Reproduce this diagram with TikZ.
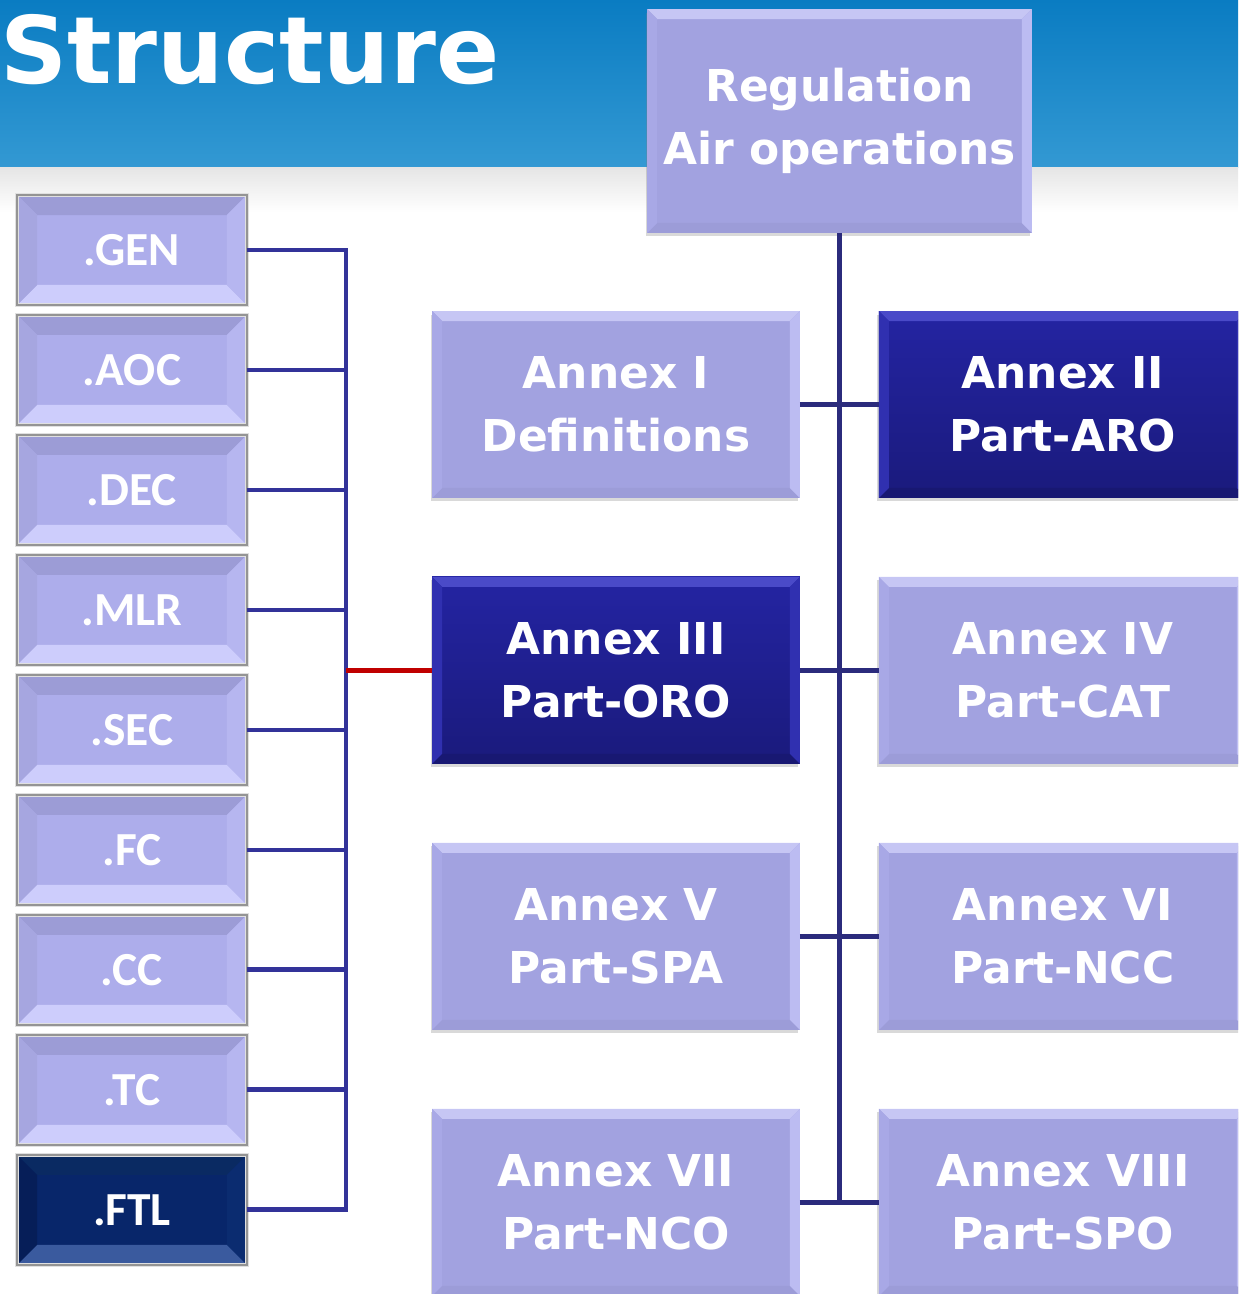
\documentclass[tikz,border=0pt]{standalone}
\usepackage{fontspec}
\usepackage{tikz}
\usetikzlibrary{positioning,shadows}
\newfontfamily\annexfont{DejaVu Sans}
\newfontfamily\tilefont{Carlito}

\definecolor{bannertop}{HTML}{0A7CC2}
\definecolor{bannerbot}{HTML}{3399D3}
\definecolor{tilebase}{HTML}{ADADEB}
\definecolor{tiletop}{HTML}{9C9CD6}
\definecolor{tilebot}{HTML}{CDCDFC}
\definecolor{tileleft}{HTML}{A6A6E0}
\definecolor{tileright}{HTML}{B6B6F0}
\definecolor{ftlbase}{HTML}{08266A}
\definecolor{ftltop}{HTML}{0A2A62}
\definecolor{ftlbot}{HTML}{3A5A9E}
\definecolor{ftlleft}{HTML}{061E58}
\definecolor{ftlright}{HTML}{0B2C70}
\definecolor{annexbase}{HTML}{A2A2E0}
\definecolor{annextop}{HTML}{C6C6F4}
\definecolor{annexbot}{HTML}{9C9CD8}
\definecolor{annexleft}{HTML}{A8A8E6}
\definecolor{annexright}{HTML}{BCBCF2}
\definecolor{darktop}{HTML}{2424A2}
\definecolor{darkbot}{HTML}{1A1A7C}
\definecolor{darkhi}{HTML}{4A4AC8}
\definecolor{darklo}{HTML}{181872}
\definecolor{darkside}{HTML}{3030B0}
\definecolor{busblue}{HTML}{333399}
\definecolor{spineblue}{HTML}{2B2B7C}
\definecolor{linkred}{HTML}{C00000}

\tikzset{
  bevel/.style n args={5}{path picture={
    \path (path picture bounding box.south west) coordinate (bsw)
          (path picture bounding box.south east) coordinate (bse)
          (path picture bounding box.north west) coordinate (bnw)
          (path picture bounding box.north east) coordinate (bne);
    \fill[#2] (bnw) -- (bne) -- ([shift={(-#1,-#1)}]bne) -- ([shift={(#1,-#1)}]bnw) -- cycle;
    \fill[#3] (bsw) -- (bse) -- ([shift={(-#1,#1)}]bse) -- ([shift={(#1,#1)}]bsw) -- cycle;
    \fill[#4] (bsw) -- (bnw) -- ([shift={(#1,-#1)}]bnw) -- ([shift={(#1,#1)}]bsw) -- cycle;
    \fill[#5] (bse) -- (bne) -- ([shift={(-#1,-#1)}]bne) -- ([shift={(-#1,#1)}]bse) -- cycle;
  }},
  tile/.style={draw=black!12, double=black!42, double distance=1.1pt, line width=0.6pt,
    fill=tilebase, minimum width=4.6cm, minimum height=2.2cm, inner sep=0pt, outer sep=0pt,
    text=white, font=\tilefont\bfseries\fontsize{27}{30}\selectfont,
    bevel={0.4cm}{tiletop}{tilebot}{tileleft}{tileright}},
  tiledark/.style={tile, fill=ftlbase,
    bevel={0.4cm}{ftltop}{ftlbot}{ftlleft}{ftlright}},
  annexbox/.style={fill=annexbase, minimum width=7.36cm, minimum height=3.74cm,
    inner sep=0pt, outer sep=0pt, text=white, align=center,
    font=\annexfont\bfseries\fontsize{25}{36}\selectfont,
    drop shadow={shadow xshift=-0.03cm, shadow yshift=-0.07cm, opacity=0.3},
    bevel={0.2cm}{annextop}{annexbot}{annexleft}{annexright}},
  annexdark/.style={annexbox, top color=darktop, bottom color=darkbot,
    bevel={0.2cm}{darkhi}{darklo}{darkside}{darkside}},
  busline/.style={draw=busblue, line width=2.7pt},
  spine/.style={draw=spineblue, line width=3pt},
  redline/.style={draw=linkred, line width=2.7pt}
}

\begin{document}
\begin{tikzpicture}[x=0.02cm, y=-0.02cm, node distance=1.58cm]

\useasboundingbox (0,0) rectangle (1238,1294);
\clip (0,0) rectangle (1238,1294);

% banner
\shade[top color=bannertop, bottom color=bannerbot] (0,0) rectangle (1238,168);
\shade[top color=black!10, bottom color=white] (0,168) rectangle (1238,212);
\node[anchor=base west, inner sep=0pt, text=white,
  font=\annexfont\bfseries\fontsize{53}{60}\selectfont] (title) at (0,84) {Structure};

% subparts
\node[tile] (gen) at (132,250) {.GEN};
\node[tile, below=0.2cm of gen] (aoc) {.AOC};
\node[tile, below=0.2cm of aoc] (dec) {.DEC};
\node[tile, below=0.2cm of dec] (mlr) {.MLR};
\node[tile, below=0.2cm of mlr] (sec) {.SEC};
\node[tile, below=0.2cm of sec] (fc) {.FC};
\node[tile, below=0.2cm of fc] (cc) {.CC};
\node[tile, below=0.2cm of cc] (tc) {.TC};
\node[tiledark, below=0.2cm of tc] (ftl) {.FTL};

% annexes
\node[annexbox, minimum width=7.7cm, minimum height=4.48cm] (reg) at (839.5,121) {Regulation\\Air operations};
\node[annexbox] (a1) at (616,404.5) {Annex I\\Definitions};
\node[annexdark, right=of a1] (a2) {Annex II\\Part-ARO};
\node[annexdark, below=of a1] (a3) {Annex III\\Part-ORO};
\node[annexbox, right=of a3] (a4) {Annex IV\\Part-CAT};
\node[annexbox, below=of a3] (a5) {Annex V\\Part-SPA};
\node[annexbox, right=of a5] (a6) {Annex VI\\Part-NCC};
\node[annexbox, below=of a5] (a7) {Annex VII\\Part-NCO};
\node[annexbox, right=of a7] (a8) {Annex VIII\\Part-SPO};

% connectors
\coordinate (bus) at (346,250);
\foreach \t in {gen,aoc,dec,mlr,sec,fc,cc,tc,ftl}
  \draw[busline] (\t.east) -- (\t.east -| bus);
\draw[busline, line cap=rect] (bus) -- (bus |- ftl.east);
\draw[redline] (bus |- a3.west) -- (a3.west);

\draw[spine] (reg.south) -- (reg.south |- a7.east);
\foreach \l/\r in {a1/a2,a3/a4,a5/a6,a7/a8}
  \draw[spine] (\l.east) -- (\r.west);

\end{tikzpicture}
\end{document}
